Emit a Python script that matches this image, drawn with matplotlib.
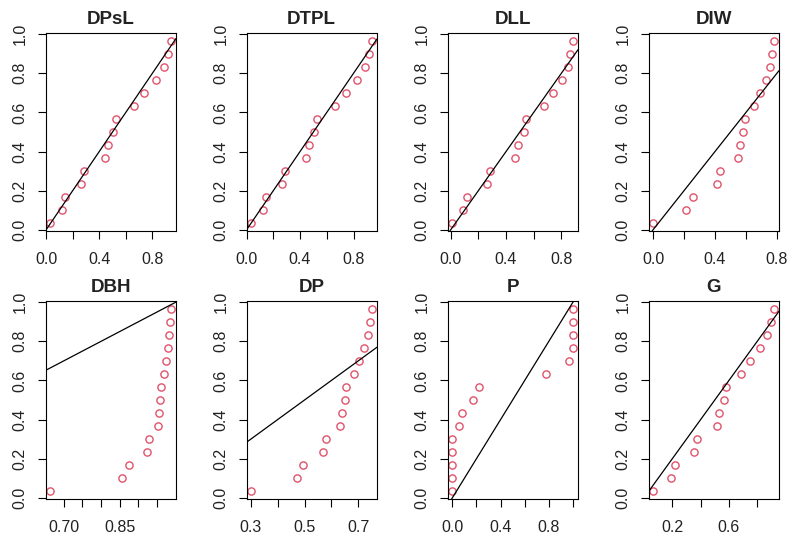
import matplotlib
matplotlib.use("Agg")
import matplotlib.pyplot as plt

plt.rcParams['font.family'] = ['Liberation Sans', 'DejaVu Sans']

titles = ["DPsL", "DTPL", "DLL", "DIW", "DBH", "DP", "P", "G"]

# empirical plotting positions (y)
p_y = [0.033, 0.100, 0.167, 0.233, 0.300, 0.367, 0.433, 0.500,
       0.567, 0.633, 0.700, 0.767, 0.833, 0.900, 0.967]

# theoretical CDF values (x) for each distribution
x_dpsl = [0.032, 0.120, 0.142, 0.262, 0.287, 0.445, 0.465, 0.507,
          0.525, 0.662, 0.740, 0.827, 0.885, 0.915, 0.940]
x_dtpl = [0.036, 0.120, 0.142, 0.262, 0.286, 0.445, 0.466, 0.506,
          0.525, 0.662, 0.741, 0.829, 0.885, 0.915, 0.938]
x_dll = [0.012, 0.089, 0.118, 0.260, 0.287, 0.467, 0.489, 0.530,
         0.547, 0.672, 0.737, 0.802, 0.846, 0.865, 0.884]
x_diw = [0.002, 0.210, 0.255, 0.414, 0.435, 0.549, 0.562, 0.581,
         0.592, 0.654, 0.688, 0.727, 0.753, 0.768, 0.781]
x_dbh = [0.664, 0.857, 0.875, 0.923, 0.929, 0.953, 0.955, 0.958,
         0.961, 0.969, 0.974, 0.980, 0.982, 0.984, 0.987]
x_dp = [0.302, 0.472, 0.493, 0.569, 0.580, 0.633, 0.638, 0.649,
        0.654, 0.684, 0.701, 0.721, 0.735, 0.742, 0.751]
x_p = [0.000, 0.000, 0.000, 0.000, 0.000, 0.058, 0.082, 0.170,
       0.225, 0.775, 0.965, 1.000, 1.000, 1.000, 1.000]
x_g = [0.066, 0.190, 0.221, 0.351, 0.374, 0.513, 0.532, 0.565,
       0.581, 0.687, 0.751, 0.821, 0.871, 0.894, 0.918]

xs = [x_dpsl, x_dtpl, x_dll, x_diw, x_dbh, x_dp, x_p, x_g]

x_ticks = [
    [0.0, 0.2, 0.4, 0.6, 0.8],
    [0.0, 0.2, 0.4, 0.6, 0.8],
    [0.0, 0.2, 0.4, 0.6, 0.8],
    [0.0, 0.2, 0.4, 0.6, 0.8],
    [0.70, 0.75, 0.80, 0.85, 0.90, 0.95],
    [0.3, 0.4, 0.5, 0.6, 0.7],
    [0.0, 0.2, 0.4, 0.6, 0.8, 1.0],
    [0.2, 0.4, 0.6, 0.8],
]
x_labels = [
    ["0.0", "", "0.4", "", "0.8"],
    ["0.0", "", "0.4", "", "0.8"],
    ["0.0", "", "0.4", "", "0.8"],
    ["0.0", "", "0.4", "", "0.8"],
    ["0.70", "", "", "0.85", "", ""],
    ["0.3", "", "0.5", "", "0.7"],
    ["0.0", "", "0.4", "", "0.8", ""],
    ["0.2", "", "0.6", ""],
]
y_ticks = [0.0, 0.2, 0.4, 0.6, 0.8, 1.0]
y_labels = ["0.0", "0.2", "0.4", "0.6", "0.8", "1.0"]

W, H = 793, 535
fig = plt.figure(figsize=(W / 100, H / 100), dpi=100)

lefts = [45.5, 246.5, 447.5, 648.5]
tops = [33.3, 301.3]
pw, ph = 130.3, 197.4

pt_color = "#DF536B"
txt_color = "#222222"

for i in range(8):
    r, c = divmod(i, 4)
    l = lefts[c]
    t = tops[r]
    ax = fig.add_axes([l / W, 1 - (t + ph) / H, pw / W, ph / H])
    x = xs[i]
    ax.plot(x, p_y, linestyle="none", marker="o", markersize=5.2,
            markerfacecolor="none", markeredgecolor=pt_color,
            markeredgewidth=1.0)
    xmin, xmax = min(x), max(x)
    dx = (xmax - xmin) * 0.04
    ymin, ymax = min(p_y), max(p_y)
    dy = (ymax - ymin) * 0.04
    ax.set_xlim(xmin - dx, xmax + dx)
    ax.set_ylim(ymin - dy, ymax + dy)
    ax.axline((0, 0), slope=1, color="black", linewidth=0.9)
    ax.set_xticks(x_ticks[i])
    ax.set_xticklabels(x_labels[i])
    ax.set_yticks(y_ticks)
    ax.set_yticklabels(y_labels, rotation=90, va="center")
    ax.tick_params(axis="x", length=5.5, width=0.8, pad=9.5,
                   labelsize=11.5, color="black", labelcolor=txt_color)
    ax.tick_params(axis="y", length=5.5, width=0.8, pad=7.5,
                   labelsize=11.5, color="black", labelcolor=txt_color)
    for s in ax.spines.values():
        s.set_linewidth(0.8)
        s.set_color("black")
    ax.set_title(titles[i], fontsize=13.5, fontweight="bold", pad=7,
                 color=txt_color)

fig.savefig("out.png", dpi=100)
